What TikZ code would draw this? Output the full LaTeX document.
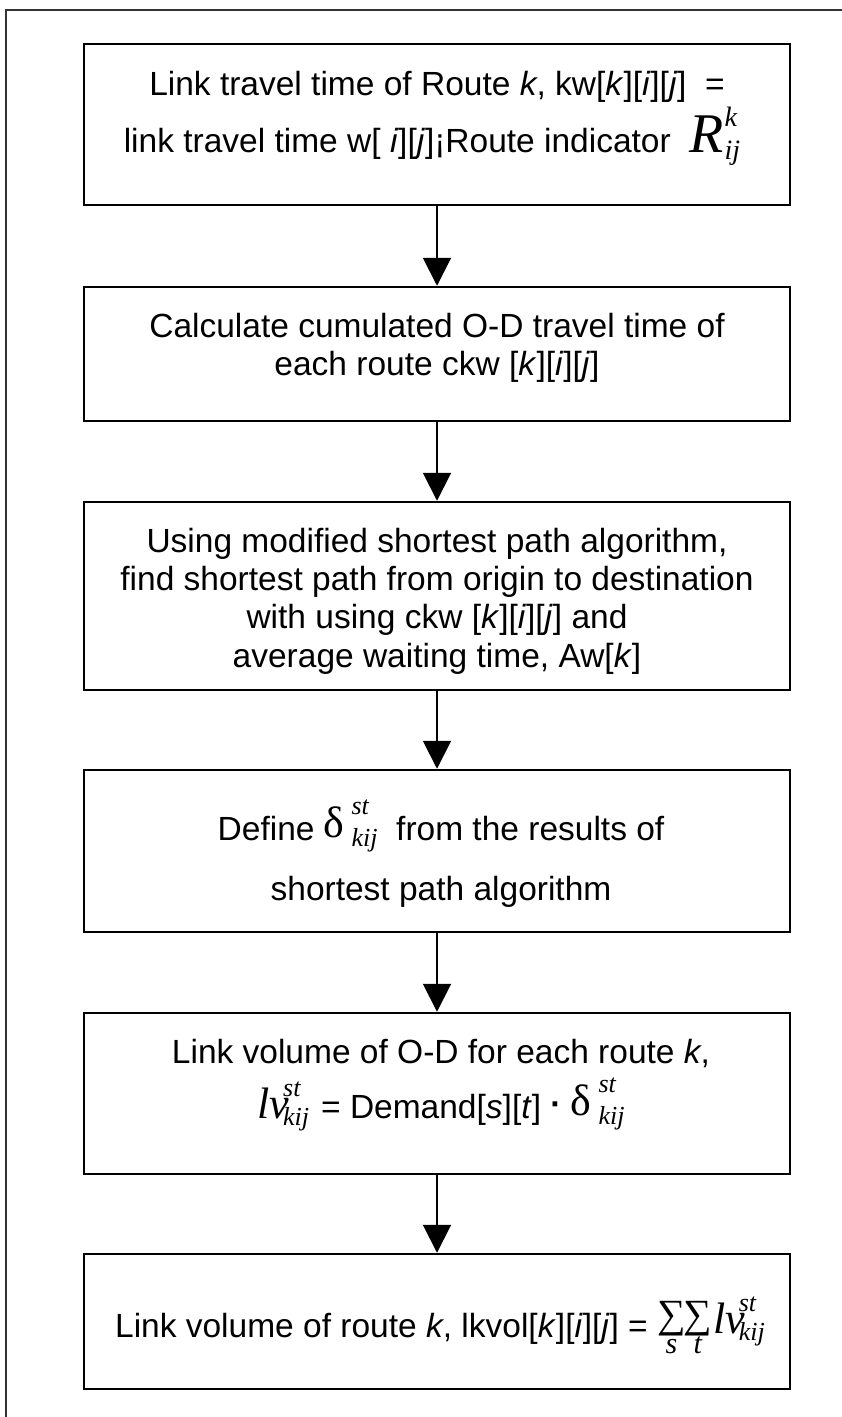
\documentclass[tikz,border=0pt]{standalone}
\usepackage{fontspec}
\setmainfont{Liberation Sans}
\newfontfamily\tms{Liberation Serif}
\usetikzlibrary{arrows.meta}
\newcommand\mi[1]{\textit{#1}}
\newcommand\scr[4]{\mbox{\rlap{\raisebox{#3}{#1}}\raisebox{-#4}{#2}}}
\newcommand\sfnt[1]{{\fontsize{26}{26}\selectfont\tms\itshape #1}}
\newcommand\dlt{{\fontsize{44}{44}\selectfont\tms δ}}
\newcommand\dst{\raisebox{3pt}{\dlt}\kern7pt\scr{\sfnt{st}}{\sfnt{kij}}{26pt}{6pt}}
\newcommand\lvst{{\fontsize{44}{44}\selectfont\tms\itshape lv}\kern-6pt\scr{\sfnt{st}}{\sfnt{kij}}{22pt}{7pt}}
\newcommand\Rk{{\fontsize{56}{56}\selectfont\tms\itshape R}\kern1pt\scr{{\fontsize{28}{28}\selectfont\tms\itshape k}}{{\fontsize{28}{28}\selectfont\tms\itshape ij}}{26pt}{7pt}}
\newcommand\sumst[1]{\begin{tabular}[b]{@{}c@{}}{\fontsize{40}{40}\selectfont\tms ∑}\\[-14pt]{\fontsize{30}{30}\selectfont\tms\itshape #1}\end{tabular}}
\begin{document}
\begin{tikzpicture}[x=1pt,y=-1pt,
  box/.style={draw=black,line width=2.5pt,minimum width=706pt,inner sep=0pt,rectangle},
  txt/.style={anchor=base,inner sep=0pt,font=\fontsize{33.5}{40}\selectfont},
  arr/.style={line width=2pt,-{Triangle[width=28pt,length=28pt]}}]
\useasboundingbox (0,0) rectangle (842,1417);
\fill[white] (0,0) rectangle (842,1417);
\draw[line width=2pt,draw=black!80] (6,10) rectangle (880,1460);
% boxes
\node[box,minimum height=161pt] (b1) at (437,124.5) {};
\node[box,minimum height=134pt] (b2) at (437,354) {};
\node[box,minimum height=188pt] (b3) at (437,596) {};
\node[box,minimum height=162pt] (b4) at (437,851) {};
\node[box,minimum height=161pt] (b5) at (437,1093.5) {};
\node[box,minimum height=135pt] (b6) at (437,1321.5) {};
% texts
\node[txt] (t1a) at (437,95) {Link travel time of Route \mi{k}, kw[\mi{k}][\mi{i}][\mi{j}]\ \ =};
\node[txt] (t1b) at (432,152) {link travel time w[ \mi{i}][\mi{j}]¡Route indicator \ \Rk};
\node[txt] (t2a) at (437,337) {Calculate cumulated O-D travel time of};
\node[txt] (t2b) at (437,375) {each route ckw [\mi{k}][\mi{i}][\mi{j}]};
\node[txt] (t3a) at (437,552) {Using modified shortest path algorithm,};
\node[txt] (t3b) at (437,590) {find shortest path from origin to destination};
\node[txt] (t3c) at (437,628) {with using ckw [\mi{k}][\mi{i}][\mi{j}] and};
\node[txt] (t3d) at (437,667) {average waiting time, Aw[\mi{k}]};
\node[txt] (t4a) at (441,840) {Define \dst\ \ from the results of};
\node[txt] (t4b) at (441,900) {shortest path algorithm};
\node[txt] (t5a) at (441,1063) {Link volume of O-D for each route \mi{k},};
\node[txt] (t5b) at (441,1118) {\lvst\kern12pt= Demand[\mi{s}][\mi{t}] \raisebox{3pt}{\textbf{·}} \dst};
\node[txt] (t6a) at (440,1337) {Link volume of route \mi{k}, lkvol[\mi{k}][\mi{i}][\mi{j}] = \raisebox{-16pt}{\sumst{s}\kern-2pt\sumst{t}}\kern1pt\raisebox{4pt}{\lvst}};
% arrows
\draw[arr] (b1.south) -- (b2.north);
\draw[arr] (b2.south) -- (b3.north);
\draw[arr] (b3.south) -- (b4.north);
\draw[arr] (b4.south) -- (b5.north);
\draw[arr] (b5.south) -- (b6.north);
\end{tikzpicture}
\end{document}
